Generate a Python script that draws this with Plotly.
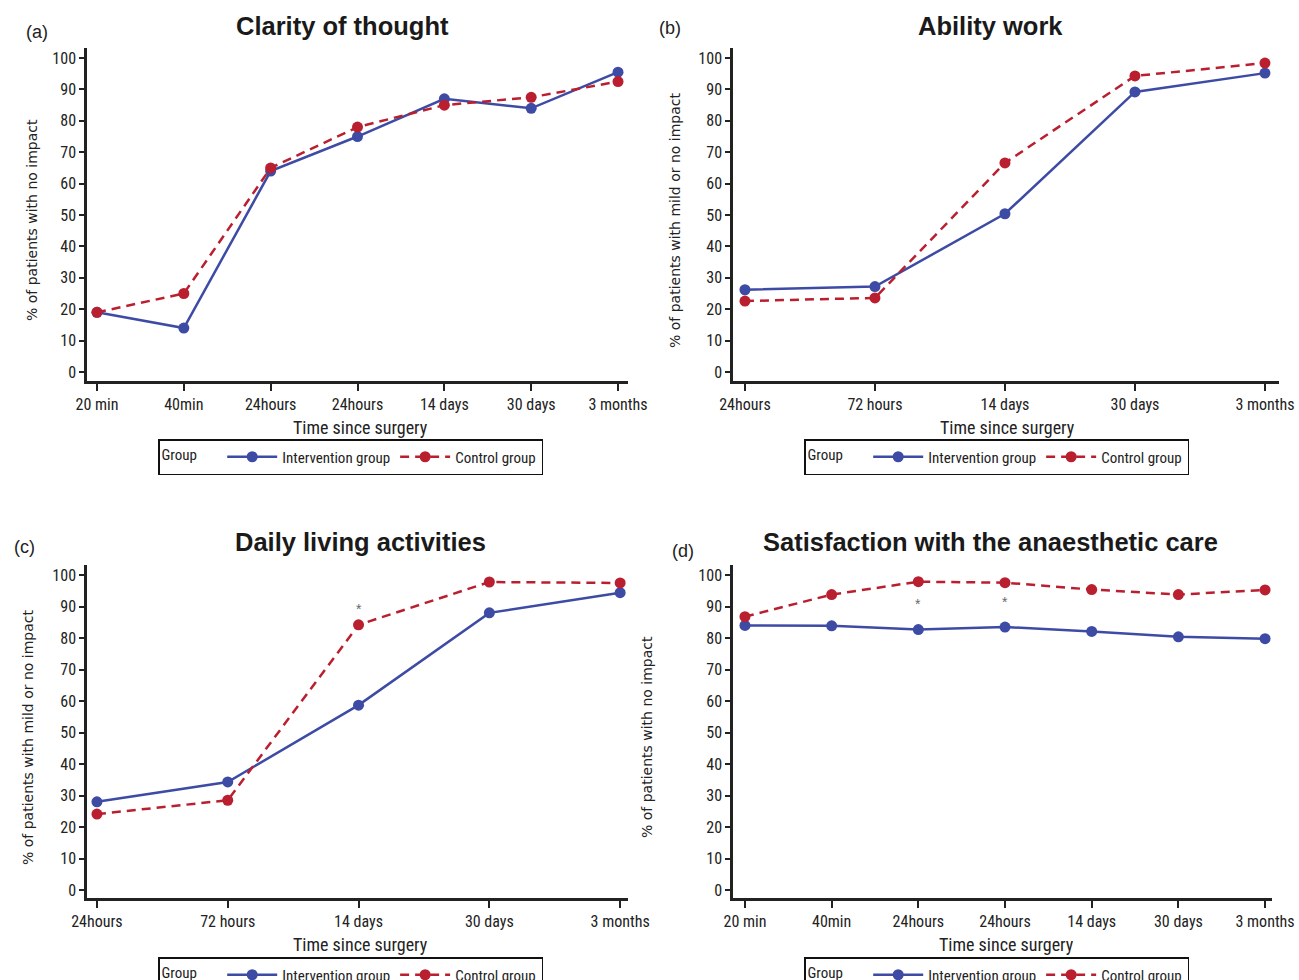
import plotly.graph_objects as go

# ---------------- data ----------------
ticks_a = ["20 min", "40min", "24hours", "24hours", "14 days", "30 days", "3 months"]
clarity_int = [19, 14, 64, 75, 87, 84, 95.5]
clarity_ctl = [19, 25, 65, 78, 85, 87.5, 92.5]

ticks_b = ["24hours", "72 hours", "14 days", "30 days", "3 months"]
work_int = [26.2, 27.2, 50.4, 89.2, 95.2]
work_ctl = [22.6, 23.6, 66.6, 94.3, 98.4]

ticks_c = ["24hours", "72 hours", "14 days", "30 days", "3 months"]
daily_int = [28.0, 34.3, 58.7, 88.0, 94.4]
daily_ctl = [24.1, 28.5, 84.2, 97.8, 97.5]
daily_sig = [2]  # index with asterisk

ticks_d = ["20 min", "40min", "24hours", "24hours", "14 days", "30 days", "3 months"]
satis_int = [84.0, 83.9, 82.7, 83.5, 82.1, 80.4, 79.8]
satis_ctl = [86.8, 93.8, 97.9, 97.6, 95.4, 93.8, 95.3]
satis_sig = [2, 3]

yticks = list(range(0, 101, 10))

BLUE = "#3D4BA5"
RED = "#BA1F2F"
NARROW = "Liberation Sans Narrow, Arial Narrow, Roboto Condensed, sans-serif"
TICKFONT = dict(family=NARROW, size=16, color="#222")
W, H = 1299, 980

def px_x(p):
    return p / W

def px_y(p):
    return 1 - p / H

fig = go.Figure()

panels = [
    dict(key="", ticks=ticks_a, yi=clarity_int, yc=clarity_ctl, xd=(87, 628), yd=(381, 48),
         xr=(-0.115, 6.115), yr=(-2.87, 103.2), sig=[], leg=(158, 439),
         title="Clarity of thought", tpos=(342, 26), lab="(a)", lpos=(37, 32),
         ytitle="% of patients with no impact", ytpos=(32, 220), xtpos=(360, 427)),
    dict(key="2", ticks=ticks_b, yi=work_int, yc=work_ctl, xd=(733, 1279), yd=(381, 48),
         xr=(-0.092, 4.108), yr=(-2.87, 103.2), sig=[], leg=(804, 439),
         title="Ability work", tpos=(990, 26), lab="(b)", lpos=(670, 28),
         ytitle="% of patients with mild or no impact", ytpos=(675, 220), xtpos=(1007, 427)),
    dict(key="3", ticks=ticks_c, yi=daily_int, yc=daily_ctl, xd=(87, 628), yd=(898, 565),
         xr=(-0.076, 4.06), yr=(-2.54, 103.2), sig=daily_sig, leg=(158, 957),
         title="Daily living activities", tpos=(360, 542), lab="(c)", lpos=(24, 547),
         ytitle="% of patients with mild or no impact", ytpos=(28, 737), xtpos=(360, 944)),
    dict(key="4", ticks=ticks_d, yi=satis_int, yc=satis_ctl, xd=(733, 1272), yd=(898, 565),
         xr=(-0.138, 6.08), yr=(-2.54, 103.2), sig=satis_sig, leg=(804, 957),
         title="Satisfaction with the anaesthetic care", tpos=(990, 542), lab="(d)", lpos=(683, 551),
         ytitle="% of patients with no impact", ytpos=(647, 737), xtpos=(1006, 944)),
]

annotations = []

def ann(text, x, y, font, **kw):
    d = dict(text=text, x=x, y=y, xref="paper", yref="paper", showarrow=False,
             xanchor="center", yanchor="middle", font=font)
    d.update(kw)
    annotations.append(d)

for p in panels:
    k = p["key"]
    xs = list(range(len(p["ticks"])))
    legname = "legend" + k
    fig.add_trace(go.Scatter(
        x=xs, y=p["yi"], mode="lines+markers", name="Intervention group",
        line=dict(color=BLUE, width=2.5), marker=dict(color=BLUE, size=11),
        xaxis="x" + k, yaxis="y" + k, legend=legname, showlegend=True))
    fig.add_trace(go.Scatter(
        x=xs, y=p["yc"], mode="lines+markers", name="Control group",
        line=dict(color=RED, width=2.5, dash="9px,6px"), marker=dict(color=RED, size=11),
        xaxis="x" + k, yaxis="y" + k, legend=legname, showlegend=True))

    ax = dict(domain=[px_x(p["xd"][0]), px_x(p["xd"][1])], range=list(p["xr"]),
              tickmode="array", tickvals=xs, ticktext=p["ticks"], ticks="outside",
              ticklen=7, tickwidth=2, tickcolor="#222", showline=True, linecolor="#222",
              linewidth=2.5, showgrid=False, zeroline=False, tickfont=TICKFONT,
              anchor="y" + k, fixedrange=True)
    ay = dict(domain=[px_y(p["yd"][0]), px_y(p["yd"][1])], range=list(p["yr"]),
              tickmode="array", tickvals=yticks, ticks="outside", ticklen=5, tickwidth=2,
              tickcolor="#222", showline=True, linecolor="#222", linewidth=2.5,
              showgrid=False, zeroline=False, tickfont=TICKFONT, anchor="x" + k,
              fixedrange=True)
    fig.update_layout(**{"xaxis" + k: ax, "yaxis" + k: ay})

    fig.update_layout(**{legname: dict(
        x=px_x(p["leg"][0]), y=px_y(p["leg"][1]), xanchor="left", yanchor="top",
        orientation="h", bordercolor="#111", borderwidth=1.5, bgcolor="white",
        itemwidth=50, tracegroupgap=0, itemclick=False, itemdoubleclick=False,
        title=dict(text="Group     ", side="left", font=dict(family=NARROW, size=15, color="#222")),
        font=dict(family=NARROW, size=15, color="#222"))})

    ann("<b>" + p["title"] + "</b>", px_x(p["tpos"][0]), px_y(p["tpos"][1]),
        dict(family="Liberation Sans, Arial, sans-serif", size=25.5, color="#1a1a1a"))
    ann(p["lab"], px_x(p["lpos"][0]), px_y(p["lpos"][1]),
        dict(family="Liberation Sans, Arial, sans-serif", size=18, color="#222"))
    ann(p["ytitle"], px_x(p["ytpos"][0]), px_y(p["ytpos"][1]),
        dict(family="DejaVu Sans, sans-serif", size=14, color="#222"), textangle=-90)
    ann("Time since surgery", px_x(p["xtpos"][0]), px_y(p["xtpos"][1]),
        dict(family=NARROW, size=18, color="#222"))
    for i in p["sig"]:
        ystar = p["yi"][i] + 8 if k == "4" else p["yc"][i] + 5
        annotations.append(dict(text="*", x=i, y=ystar, xref="x" + k, yref="y" + k,
                                showarrow=False, xanchor="center", yanchor="middle",
                                font=dict(family="Liberation Sans, Arial, sans-serif", size=14, color="#666")))

fig.update_layout(width=W, height=H, margin=dict(l=0, r=0, t=0, b=0, autoexpand=False),
                  paper_bgcolor="white", plot_bgcolor="white",
                  annotations=annotations)

fig.write_html("out.html", config={"displayModeBar": False},
               post_script="document.body.style.margin='0';document.body.style.overflow='hidden';")
